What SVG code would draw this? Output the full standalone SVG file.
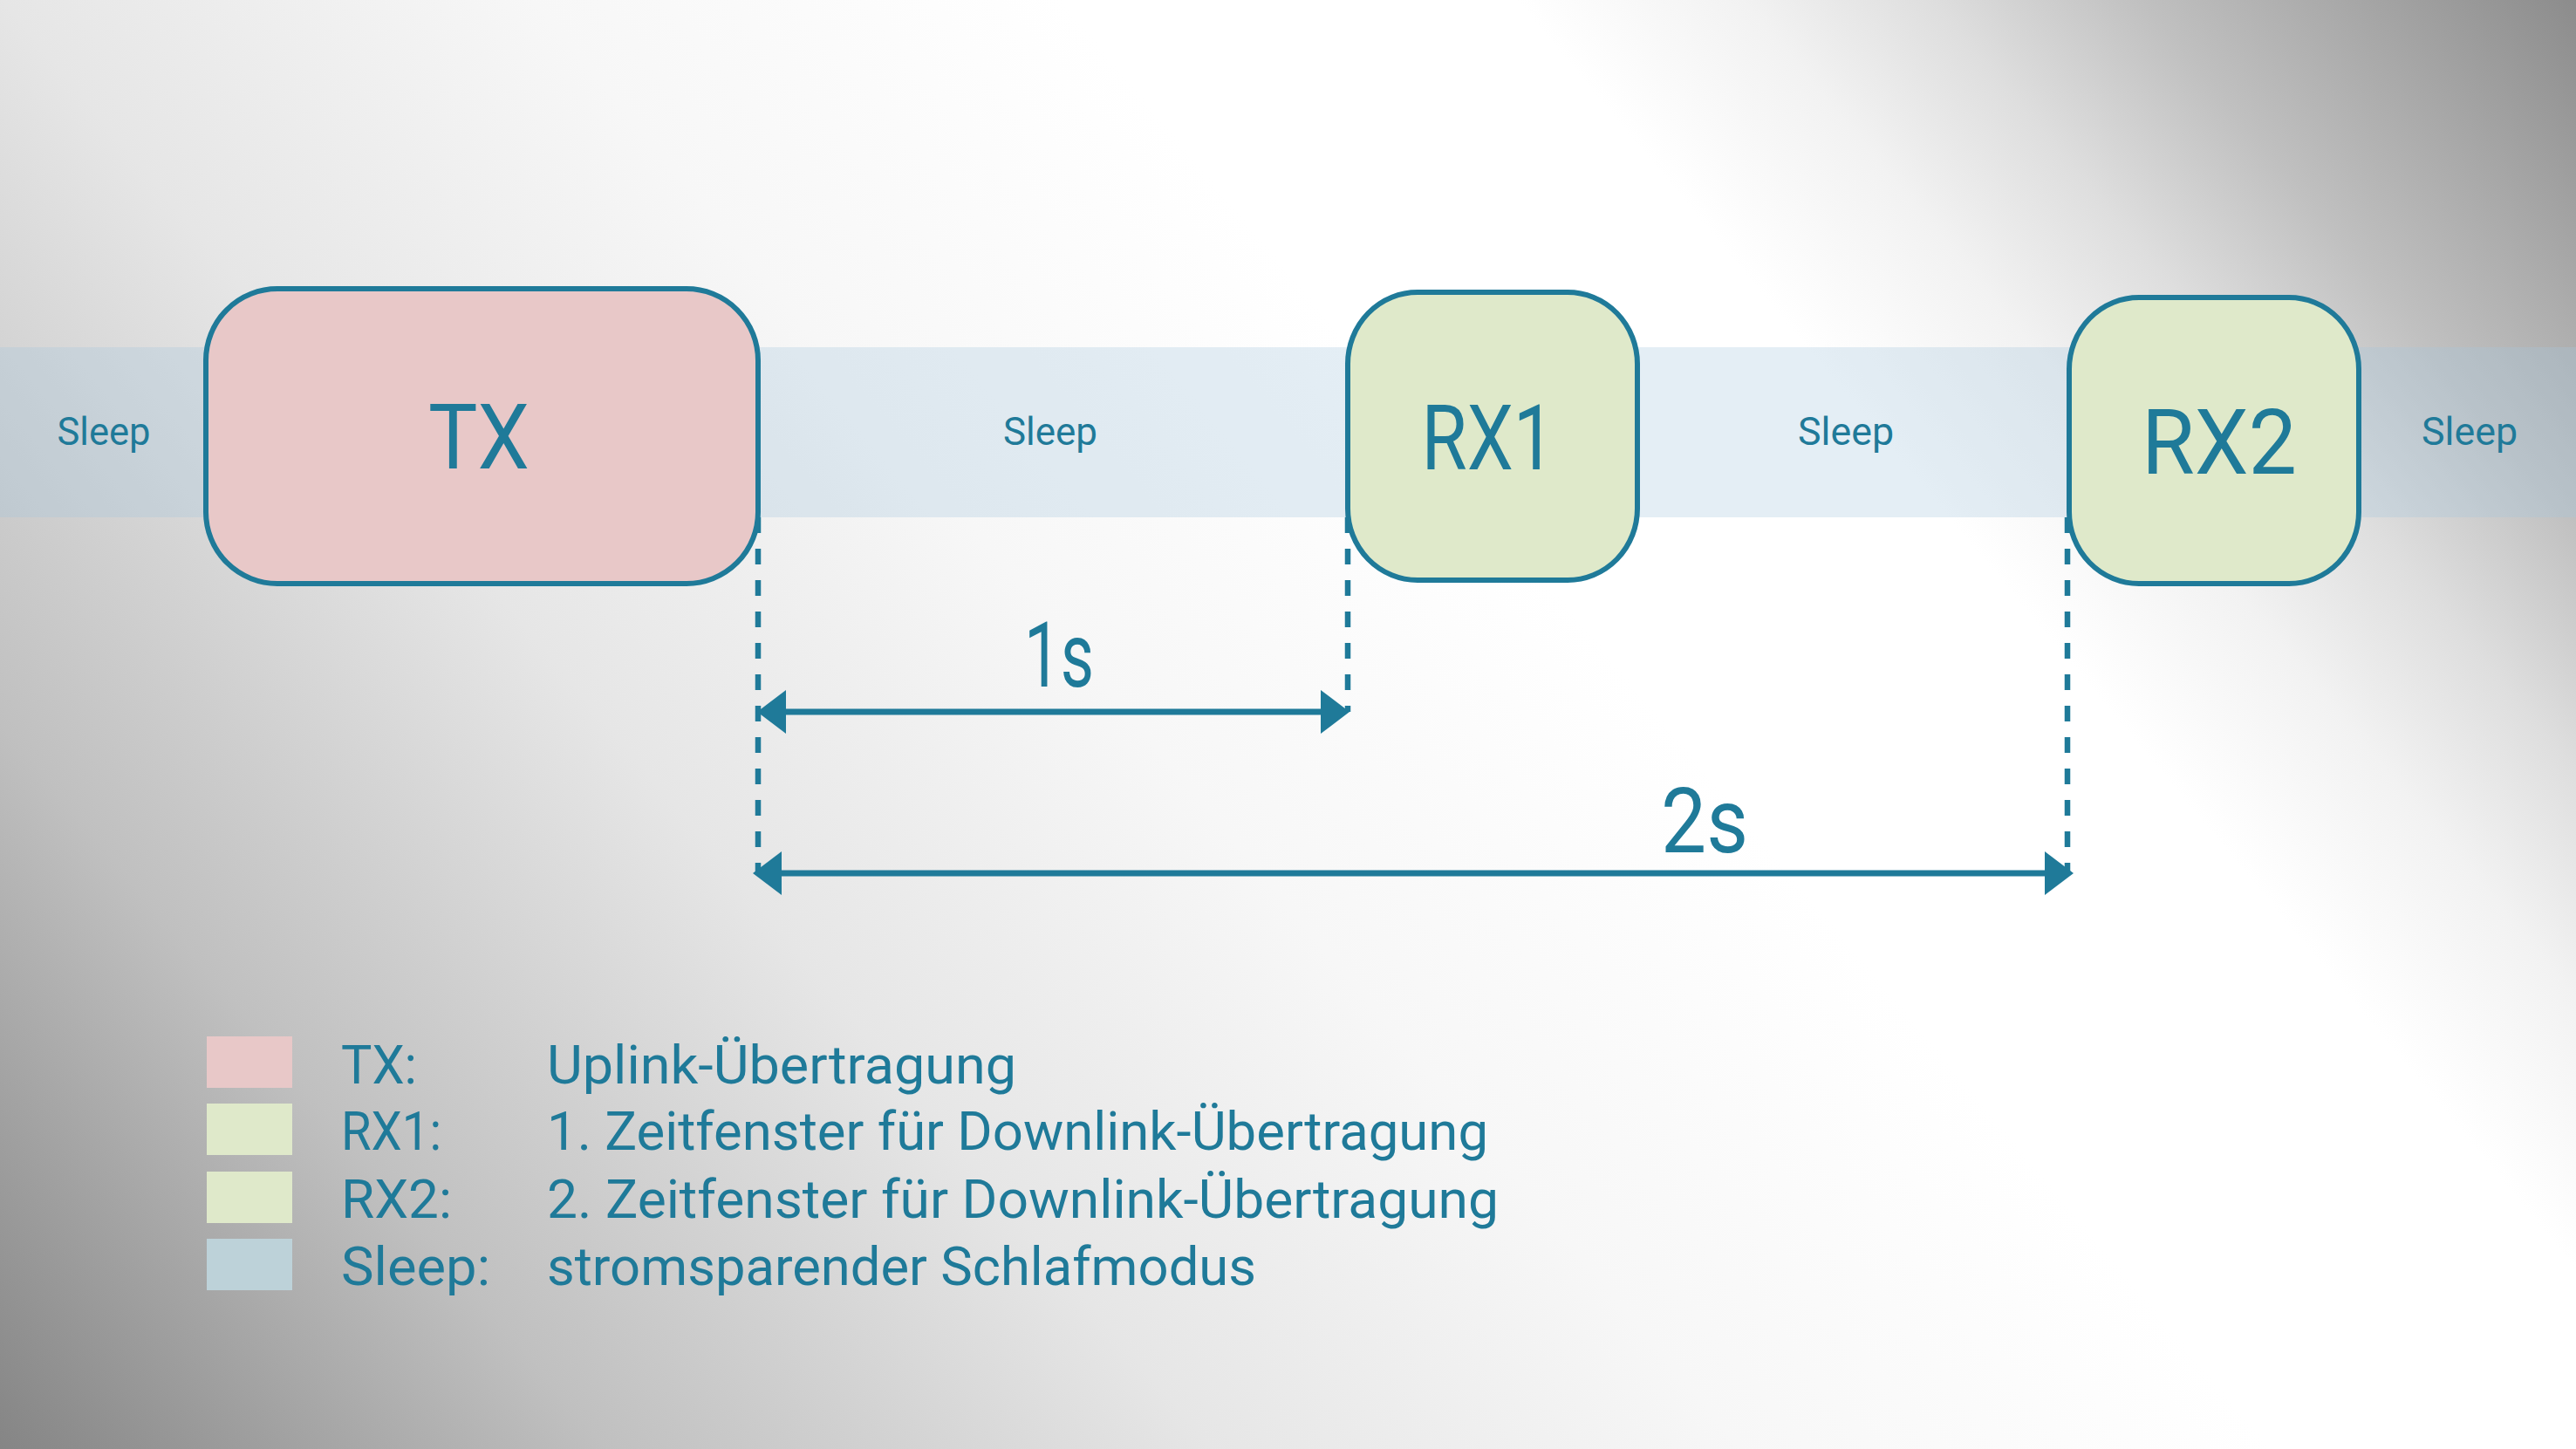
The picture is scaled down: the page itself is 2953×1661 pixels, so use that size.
<svg xmlns="http://www.w3.org/2000/svg" width="2953" height="1661" viewBox="0 0 2953 1661">
  <defs>
    <linearGradient id="bg" gradientUnits="userSpaceOnUse" x1="-121" y1="1516" x2="2437" y2="-619">
      <stop offset="0" stop-color="#858585"/>
      <stop offset="0.16" stop-color="#c0c0c0"/>
      <stop offset="0.32" stop-color="#e6e6e6"/>
      <stop offset="0.46" stop-color="#f7f7f7"/>
      <stop offset="0.6" stop-color="#ffffff"/>
      <stop offset="0.72" stop-color="#ffffff"/>
      <stop offset="0.78" stop-color="#f2f2f2"/>
      <stop offset="0.83" stop-color="#dedede"/>
      <stop offset="0.885" stop-color="#c0c0c0"/>
      <stop offset="1" stop-color="#8c8c8c"/>
    </linearGradient>
    <marker id="arrow" viewBox="0 0 33 50" refX="21" refY="25" markerWidth="33" markerHeight="50" markerUnits="userSpaceOnUse" orient="auto-start-reverse">
      <path d="M0,0 L33,25 L0,50 Z" fill="#1f7a99"/>
    </marker>
    <style>
      text { font-family: Roboto, "Liberation Sans", sans-serif; fill: #1f7a99; }
      .box { stroke: #1f7a99; stroke-width: 6; }
      .tx { fill: #e8c8c8; }
      .rx { fill: #dfe9ca; }
      .big { font-size: 104px; text-anchor: middle; }
      .sleep { font-size: 45px; text-anchor: middle; }
      .leg { font-size: 62px; }
      .dash { stroke: #1f7a99; stroke-width: 6.5; stroke-dasharray: 18 18; fill: none; }
      .dim { stroke: #1f7a99; stroke-width: 7; fill: none; }
    </style>
  </defs>

  <!-- background -->
  <rect x="0" y="0" width="2953" height="1661" fill="url(#bg)"/>

  <!-- sleep band -->
  <g id="sleep-band">
    <rect x="0" y="398" width="2953" height="195" fill="rgb(165,200,222)" fill-opacity="0.3"/>
    <text class="sleep" x="119" y="510" textLength="107" lengthAdjust="spacingAndGlyphs">Sleep</text>
    <text class="sleep" x="1204" y="510" textLength="108" lengthAdjust="spacingAndGlyphs">Sleep</text>
    <text class="sleep" x="2116" y="510" textLength="110" lengthAdjust="spacingAndGlyphs">Sleep</text>
    <text class="sleep" x="2831" y="510" textLength="110" lengthAdjust="spacingAndGlyphs">Sleep</text>
  </g>

  <!-- connectors -->
  <g id="connectors">
    <line class="dash" x1="869" y1="593" x2="869" y2="1000"/>
    <line class="dash" x1="1545" y1="593" x2="1545" y2="816"/>
    <line class="dash" x1="2370" y1="593" x2="2370" y2="1001"/>
    <line class="dim" x1="880" y1="816" x2="1535" y2="816" marker-start="url(#arrow)" marker-end="url(#arrow)"/>
    <line class="dim" x1="875" y1="1001" x2="2365" y2="1001" marker-start="url(#arrow)" marker-end="url(#arrow)"/>
    <text class="big" x="1214" y="787" textLength="80" lengthAdjust="spacingAndGlyphs">1s</text>
    <text class="big" x="1954" y="977" textLength="100" lengthAdjust="spacingAndGlyphs">2s</text>
  </g>

  <!-- nodes -->
  <g id="node-tx">
    <rect class="box tx" x="236" y="331" width="633" height="338" rx="82" ry="82"/>
    <text class="big" x="549" y="537" textLength="116" lengthAdjust="spacingAndGlyphs">TX</text>
  </g>
  <g id="node-rx1">
    <rect class="box rx" x="1545" y="335" width="332" height="330" rx="80" ry="82"/>
    <text class="big" x="1706" y="538" textLength="153" lengthAdjust="spacingAndGlyphs">RX1</text>
  </g>
  <g id="node-rx2">
    <rect class="box rx" x="2372" y="341" width="332" height="328" rx="80" ry="82"/>
    <text class="big" x="2544" y="543" textLength="178" lengthAdjust="spacingAndGlyphs">RX2</text>
  </g>

  <!-- legend -->
  <g id="legend">
    <rect x="237" y="1188" width="98" height="59" fill="#e8c8c8"/>
    <rect x="237" y="1265" width="98" height="59" fill="#dfe9ca"/>
    <rect x="237" y="1343" width="98" height="59" fill="#dfe9ca"/>
    <rect x="237" y="1420" width="98" height="59" fill="#bdd2d9"/>
    <text class="leg" x="391" y="1242" textLength="87" lengthAdjust="spacingAndGlyphs">TX:</text>
    <text class="leg" x="391" y="1318" textLength="115" lengthAdjust="spacingAndGlyphs">RX1:</text>
    <text class="leg" x="391" y="1396" textLength="127" lengthAdjust="spacingAndGlyphs">RX2:</text>
    <text class="leg" x="391" y="1473" textLength="171" lengthAdjust="spacingAndGlyphs">Sleep:</text>
    <text class="leg" x="627" y="1242" textLength="538" lengthAdjust="spacingAndGlyphs">Uplink-Übertragung</text>
    <text class="leg" x="627" y="1318" textLength="1079" lengthAdjust="spacingAndGlyphs">1. Zeitfenster für Downlink-Übertragung</text>
    <text class="leg" x="627" y="1396" textLength="1091" lengthAdjust="spacingAndGlyphs">2. Zeitfenster für Downlink-Übertragung</text>
    <text class="leg" x="627" y="1473" textLength="813" lengthAdjust="spacingAndGlyphs">stromsparender Schlafmodus</text>
  </g>
</svg>
